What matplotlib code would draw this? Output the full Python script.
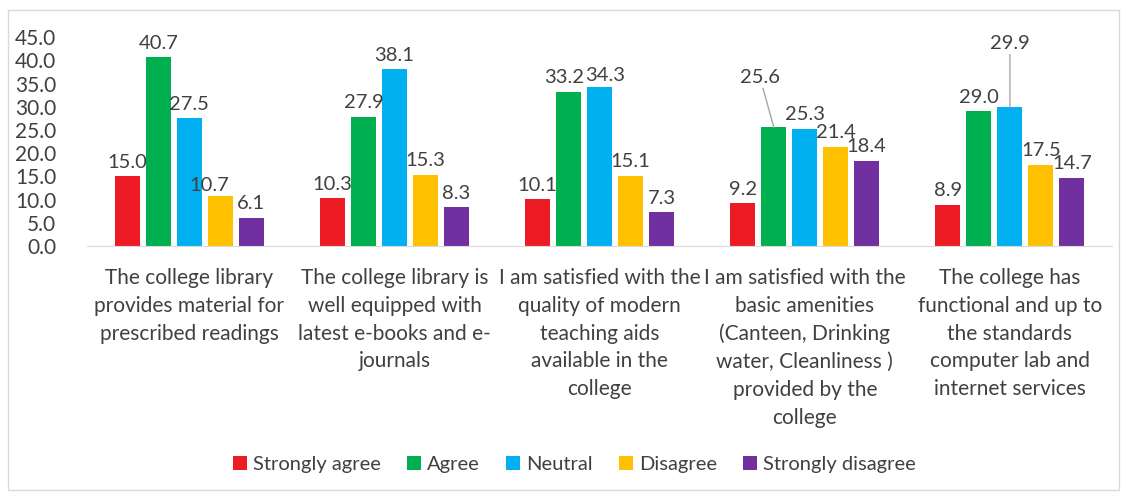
import numpy as np
import matplotlib.pyplot as plt
from matplotlib.patches import Rectangle

plt.rcParams['font.family'] = ['Lato', 'DejaVu Sans']

categories = [
    "The college library\nprovides material for\nprescribed readings",
    "The college library is\nwell equipped with\nlatest e-books and e-\njournals",
    "I am satisfied with the\nquality of modern\nteaching aids\navailable in the\ncollege",
    "I am satisfied with the\nbasic amenities\n(Canteen, Drinking\nwater, Cleanliness )\nprovided by the\ncollege",
    "The college has\nfunctional and up to\nthe standards\ncomputer lab and\ninternet services",
]
series_names = ["Strongly agree", "Agree", "Neutral", "Disagree", "Strongly disagree"]
strongly_agree = [15.0, 10.3, 10.1, 9.2, 8.9]
agree = [40.7, 27.9, 33.2, 25.6, 29.0]
neutral = [27.5, 38.1, 34.3, 25.3, 29.9]
disagree = [10.7, 15.3, 15.1, 21.4, 17.5]
strongly_disagree = [6.1, 8.3, 7.3, 18.4, 14.7]

colors = ["#ED1C24", "#00B050", "#00B0F0", "#FFC000", "#7030A0"]
series = [strongly_agree, agree, neutral, disagree, strongly_disagree]

# label offsets (points) for labels that excel moved around
label_offsets = {(3, 1): (-10, 30), (4, 2): (0, 40), (0, 3): (-8, 2),
                 (2, 1): (-3, 4), (2, 2): (4, 2)}

fs = 14.5
txt = "#404040"

fig = plt.figure(figsize=(11.26, 4.95), dpi=100)
ax = fig.add_axes([0.077, 0.503, 0.911, 0.422])

x = np.arange(len(categories))
step = 0.151
width = 0.122
for i, (name, vals, c) in enumerate(zip(series_names, series, colors)):
    pos = x + (i - 2) * step
    ax.bar(pos, vals, width, color=c, label=name)
    for j, (p, v) in enumerate(zip(pos, vals)):
        dx, dy = label_offsets.get((j, i), (0, 4))
        arrow = None
        if dy > 10:
            arrow = dict(arrowstyle="-", color="#A6A6A6", lw=1, shrinkA=0, shrinkB=0)
        ax.annotate(f"{v:.1f}", xy=(p, v), xytext=(dx, dy),
                    textcoords="offset points", ha="center", va="bottom",
                    fontsize=fs, color=txt, arrowprops=arrow)

ax.set_xlim(-0.5, len(categories) - 0.5)
ax.set_ylim(0, 45)
ax.set_yticks(np.arange(0, 46, 5))
ax.set_yticklabels([f"{t:.1f}" for t in np.arange(0, 46, 5)])
ax.set_xticks(x)
ax.set_xticklabels(categories, fontsize=15, color=txt, linespacing=1.48, va="top")
ax.tick_params(axis="y", length=0, labelsize=15, labelcolor=txt, pad=22)
ax.tick_params(axis="x", length=0, pad=16)
for s in ["top", "right", "left"]:
    ax.spines[s].set_visible(False)
ax.spines["bottom"].set_color("#D9D9D9")

handles, labels = ax.get_legend_handles_labels()
fig.legend(handles, labels, loc="center", bbox_to_anchor=(0.51, 0.062), ncol=5,
           frameon=False, fontsize=fs, handlelength=0.7, handleheight=0.7,
           handletextpad=0.3, columnspacing=1.3, labelcolor=txt)

fig.patches.append(Rectangle((0.007, 0.01), 0.987, 0.97, transform=fig.transFigure,
                             fill=False, edgecolor="#D9D9D9", lw=1))

fig.savefig("out.png", dpi=100)
